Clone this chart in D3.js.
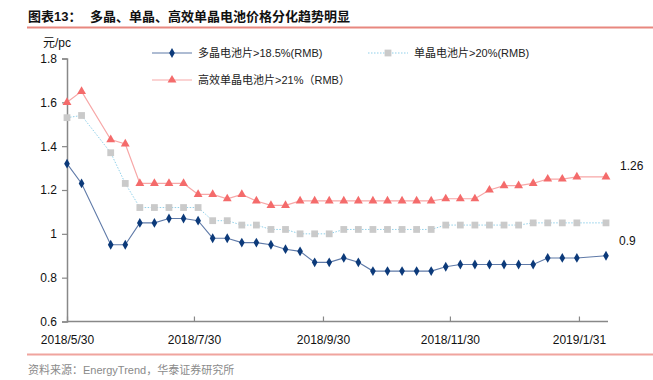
<!DOCTYPE html>
<html><head><meta charset="utf-8">
<script src="https://cdn.jsdelivr.net/npm/d3@7"></script>
<style>
html,body{margin:0;padding:0;background:#fff;}
svg{display:block;}
</style>
</head><body>
<svg id="c" width="653" height="380"></svg>
<script>
const dates = ["2018-05-30","2018-06-06","2018-06-20","2018-06-27","2018-07-04","2018-07-11","2018-07-18","2018-07-25","2018-08-01","2018-08-08","2018-08-15","2018-08-22","2018-08-29","2018-09-05","2018-09-12","2018-09-19","2018-09-26","2018-10-03","2018-10-10","2018-10-17","2018-10-24","2018-10-31","2018-11-07","2018-11-14","2018-11-21","2018-11-28","2018-12-05","2018-12-12","2018-12-19","2018-12-26","2019-01-02","2019-01-09","2019-01-16","2019-01-23","2019-01-30","2019-02-13"];
const poly = [1.32,1.23,0.95,0.95,1.05,1.05,1.07,1.07,1.06,0.98,0.98,0.96,0.96,0.95,0.93,0.92,0.87,0.87,0.89,0.87,0.83,0.83,0.83,0.83,0.83,0.85,0.86,0.86,0.86,0.86,0.86,0.86,0.89,0.89,0.89,0.90];
const mono = [1.53,1.54,1.37,1.23,1.12,1.12,1.12,1.12,1.12,1.06,1.06,1.04,1.04,1.02,1.02,1.00,1.00,1.00,1.02,1.02,1.02,1.02,1.02,1.02,1.02,1.04,1.04,1.04,1.04,1.04,1.04,1.05,1.05,1.05,1.05,1.05];
const high = [1.60,1.65,1.43,1.41,1.23,1.23,1.23,1.23,1.18,1.18,1.16,1.18,1.15,1.13,1.13,1.15,1.15,1.15,1.15,1.15,1.15,1.15,1.15,1.15,1.15,1.16,1.16,1.16,1.20,1.22,1.22,1.23,1.25,1.25,1.26,1.26];
const seriesNames = ["多晶电池片>18.5%(RMB)","单晶电池片>20%(RMB)","高效单晶电池片>21%（RMB）"];
const xTickDates = ["2018-05-30","2018-07-30","2018-09-30","2018-11-30","2019-01-31"];
const xTickLabels = ["2018/5/30","2018/7/30","2018/9/30","2018/11/30","2019/1/31"];
const yTicks = [0.6,0.8,1.0,1.2,1.4,1.6,1.8];
const endLabels = ["1.26","0.9"];
const titleText = "多晶、单晶、高效单晶电池价格分化趋势明显";
const titlePrefix = "图表13：";
const unitText = "元/pc";
const sourceText = "资料来源：EnergyTrend，华泰证券研究所";

const parse = d3.utcParse("%Y-%m-%d");
const D = dates.map(parse);
const svg = d3.select("#c");
const CJK = "'Noto Sans CJK SC','Liberation Sans',sans-serif";
const LAT = "'Liberation Sans',Arial,sans-serif";
const MIX = "'Liberation Sans','Noto Sans CJK SC',sans-serif";

const x = d3.scaleUtc().domain([D[0], D[D.length-1]]).range([67, 606]);
const y = d3.scaleLinear().domain([0.6, 1.8]).range([321.5, 58.5]);

// title
svg.append("text").attr("x",28).attr("y",21).attr("font-family",MIX).attr("font-weight","bold")
  .attr("font-size",13).attr("fill","#111").text(titlePrefix);
svg.append("text").attr("x",90).attr("y",21).attr("font-family",CJK).attr("font-weight","bold")
  .attr("font-size",13).attr("fill","#111").text(titleText);
svg.append("line").attr("x1",27).attr("x2",653).attr("y1",27.5).attr("y2",27.5)
  .attr("stroke","#e8877f").attr("stroke-width",2);
svg.append("line").attr("x1",27).attr("x2",653).attr("y1",354.5).attr("y2",354.5)
  .attr("stroke","#f0a49e").attr("stroke-width",2);
svg.append("text").attr("x",28).attr("y",374).attr("font-family",MIX)
  .attr("font-size",11).attr("fill","#8a8a8a").text(sourceText);

// unit
svg.append("text").attr("x",43).attr("y",47).attr("font-family",MIX)
  .attr("font-size",12).attr("fill","#111").text(unitText);

// y axis
const yAxis = d3.axisLeft(y).tickValues(yTicks).tickSize(5).tickPadding(5)
  .tickFormat(d => d3.format("")(+d.toFixed(1)));
const gy = svg.append("g").attr("transform","translate(67,0)").call(yAxis);
gy.select(".domain").attr("stroke","#888").attr("stroke-width",1.5);
gy.selectAll(".tick line").attr("stroke","#888").attr("stroke-width",1.2);
gy.selectAll(".tick text").attr("font-family",LAT).attr("font-size",12).attr("fill","#111");

// x axis
const xAxis = d3.axisBottom(x).tickValues(xTickDates.map(parse)).tickSize(-5).tickSizeOuter(0)
  .tickPadding(14).tickFormat((d,i) => xTickLabels[i]);
const gx = svg.append("g").attr("transform","translate(0,321.5)").call(xAxis);
gx.select(".domain").attr("stroke","#888").attr("stroke-width",1.5).attr("d","M67,0H608");
gx.selectAll(".tick line").attr("stroke","#888").attr("stroke-width",1.2);
gx.selectAll(".tick text").attr("font-family",LAT).attr("font-size",12).attr("fill","#111");

const line = d3.line().x((d,i)=>x(D[i])).y(d=>y(d));

svg.append("path").datum(high).attr("d",line).attr("fill","none").attr("stroke","#f7a7a7").attr("stroke-width",1.2);
svg.append("path").datum(mono).attr("d",line).attr("fill","none").attr("stroke","#8fd0ea").attr("stroke-width",1).attr("stroke-dasharray","1.5,1.5");
svg.append("path").datum(poly).attr("d",line).attr("fill","none").attr("stroke","#5f7aa8").attr("stroke-width",1.1);

const tri = d3.symbol().type(d3.symbolTriangle).size(34);
const sq = d3.symbol().type(d3.symbolSquare).size(46);
const dia = d3.symbol().type(d3.symbolDiamond).size(28);

svg.append("g").selectAll("path").data(high).join("path")
  .attr("transform",(d,i)=>`translate(${x(D[i])},${y(d)})`).attr("d",tri).attr("fill","#f46b6b");
svg.append("g").selectAll("path").data(mono).join("path")
  .attr("transform",(d,i)=>`translate(${x(D[i])},${y(d)})`).attr("d",sq).attr("fill","#cacaca");
svg.append("g").selectAll("path").data(poly).join("path")
  .attr("transform",(d,i)=>`translate(${x(D[i])},${y(d)})`).attr("d",dia).attr("fill","#0c3a7a");

// end labels
svg.append("text").attr("x",620).attr("y",y(high[high.length-1])-7).attr("font-family",LAT)
  .attr("font-size",12).attr("fill","#111").text(endLabels[0]);
svg.append("text").attr("x",619).attr("y",y(poly[poly.length-1])-11).attr("font-family",LAT)
  .attr("font-size",12).attr("fill","#111").text(endLabels[1]);

// legend
const leg = [
  {x:152, y:53, name:seriesNames[0], stroke:"#5f7aa8", dash:null, sym:dia, fill:"#0c3a7a"},
  {x:368, y:53, name:seriesNames[1], stroke:"#8fd0ea", dash:"1.5,1.5", sym:sq, fill:"#cacaca"},
  {x:152, y:80, name:seriesNames[2], stroke:"#f7a7a7", dash:null, sym:tri, fill:"#f46b6b"}
];
leg.forEach(l => {
  const g = svg.append("g");
  g.append("line").attr("x1",l.x).attr("x2",l.x+40).attr("y1",l.y).attr("y2",l.y)
    .attr("stroke",l.stroke).attr("stroke-width",1.1).attr("stroke-dasharray",l.dash);
  g.append("path").attr("transform",`translate(${l.x+20},${l.y})`).attr("d",l.sym).attr("fill",l.fill);
  g.append("text").attr("x",l.x+46).attr("y",l.y+4).attr("font-family",MIX)
    .attr("font-size",11).attr("fill","#222").text(l.name);
});
</script>
</body></html>
